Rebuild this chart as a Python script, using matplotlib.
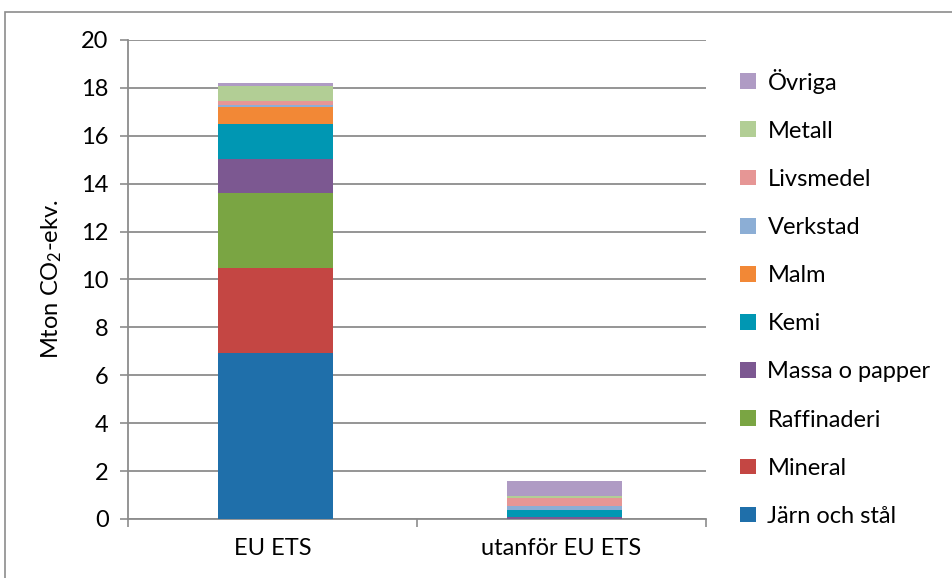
import numpy as np
import matplotlib
matplotlib.use("Agg")
import matplotlib.pyplot as plt
from matplotlib.patches import Rectangle

plt.rcParams['font.family'] = ['Lato', 'DejaVu Sans']
plt.rcParams['mathtext.fontset'] = 'custom'
plt.rcParams['mathtext.rm'] = 'Lato'
plt.rcParams['mathtext.it'] = 'Lato:italic'

# data (Mton CO2-ekv.)
kategorier = ["EU ETS", "utanför EU ETS"]
sektorer = ["Järn och stål", "Mineral", "Raffinaderi", "Massa o papper", "Kemi",
            "Malm", "Verkstad", "Livsmedel", "Metall", "Övriga"]
eu_ets = [6.93, 3.55, 3.12, 1.44, 1.45, 0.70, 0.08, 0.20, 0.62, 0.10]
utanfor = [0.02, 0.0, 0.0, 0.05, 0.30, 0.0, 0.18, 0.32, 0.11, 0.60]
farger = ["#1F6FAA", "#C44643", "#7AA543", "#7C5891", "#0097B3",
          "#F28836", "#8CAED5", "#E69695", "#B2CE95", "#AF9BC4"]

fs = 17

fig = plt.figure(figsize=(9.53, 5.78), dpi=100)
ax = fig.add_axes([0.1343, 0.1021, 0.6065, 0.8287])

x = np.arange(len(kategorier))
bottom = np.zeros(len(kategorier))
for i, s in enumerate(sektorer):
    vals = np.array([eu_ets[i], utanfor[i]])
    ax.bar(x + 0.01, vals, width=0.4, bottom=bottom, color=farger[i], label=s, zorder=3)
    bottom += vals

ax.set_xlim(-0.5, 1.5)
ax.set_ylim(0, 20)
ax.set_yticks(np.arange(0, 21, 2))
ax.set_xticks(x)
ax.set_xticklabels(kategorier)
ax.set_xticks([-0.5, 0.5, 1.5], minor=True)
ax.tick_params(axis='x', which='major', length=0, pad=14, labelsize=fs)
ax.tick_params(axis='x', which='minor', length=6, color='#8c8c8c', width=1.2)
ax.tick_params(axis='y', length=6, color='#8c8c8c', width=1.2, labelsize=fs, pad=8)
ax.grid(axis='y', color='#8c8c8c', linewidth=1.3, zorder=0)
for sp in ['top', 'right']:
    ax.spines[sp].set_visible(False)
for sp in ['left', 'bottom']:
    ax.spines[sp].set_color('#8c8c8c')
    ax.spines[sp].set_linewidth(1.3)
ax.set_ylabel("Mton CO$_2$-ekv.", fontsize=fs, labelpad=12)

h, l = ax.get_legend_handles_labels()
ax.legend(h[::-1], l[::-1], loc='center left', bbox_to_anchor=(1.043, 0.462),
          frameon=False, fontsize=fs, handlelength=0.65, handleheight=0.65,
          labelspacing=1.15, handletextpad=0.5, borderaxespad=0)

fig.patches.append(Rectangle((5 / 953, -0.1), 1.2, 1 - 12 / 578 + 0.1,
                             transform=fig.transFigure, fill=False,
                             edgecolor='#8c8c8c', linewidth=1.2))

fig.savefig("out.png", dpi=100)
